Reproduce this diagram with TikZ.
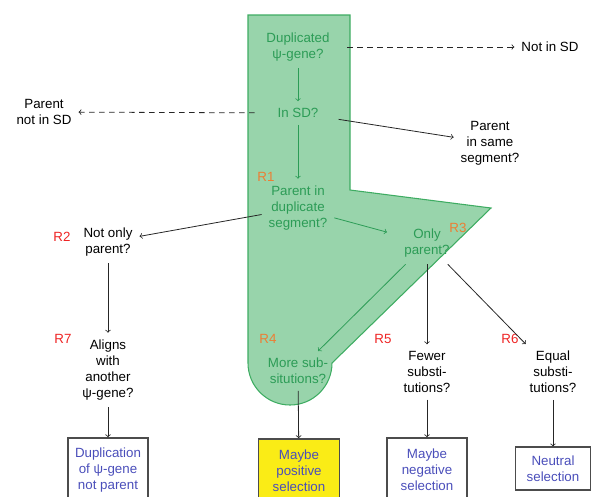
\documentclass[tikz,border=0pt]{standalone}
\usepackage{fontspec}
\setmainfont{Liberation Sans}
\definecolor{shapefill}{RGB}{152,212,171}
\definecolor{shapeline}{RGB}{62,172,98}
\definecolor{qgreen}{RGB}{44,156,86}
\definecolor{rorange}{RGB}{236,126,52}
\definecolor{rred}{RGB}{238,36,36}
\definecolor{outblue}{RGB}{74,78,186}
\definecolor{posyellow}{RGB}{250,236,22}

\begin{document}
\begin{tikzpicture}[x=0.75pt,y=0.75pt,yscale=-1,
  q/.style={align=center,font=\fontsize{10}{12}\selectfont,inner sep=5pt},
  gq/.style={q,text=qgreen},
  rlab/.style={font=\fontsize{10}{12}\selectfont,inner sep=0pt},
  outbox/.style={draw=black!70,line width=1.1pt,align=center,text=outblue,font=\fontsize{10}{12}\selectfont,minimum width=60pt,inner sep=2pt},
  every path/.append style={line width=0.6pt}]
\useasboundingbox (0,0) rectangle (594,497);

%Shape: Polygon
\draw [draw=shapeline,fill=shapefill,line width=0.8pt] (248,15) -- (350,15) -- (350,190) -- (491,208) -- (332,363) arc [start angle=0,end angle=180,radius=42] -- cycle ;

% Text Node
\draw (298,47) node (dup) [gq] {Duplicated\\ψ-gene?};
% Text Node
\draw (298,113) node (insd) [gq] {In SD?};
% Text Node
\draw (298,208) node (pdup) [gq] {Parent in\\duplicate\\segment?};
% Text Node
\draw (427,243) node (only) [gq] {Only\\parent?};
% Text Node
\draw (298,371) node (more) [gq] {More sub-\\situtions?};
% Text Node
\draw (550,47) node (notsd) [q] {Not in SD};
% Text Node
\draw (44,112) node (pnotsd) [q] {Parent\\not in SD};
% Text Node
\draw (490,143) node (psame) [q] {Parent\\in same\\segment?};
% Text Node
\draw (108,242) node (notonly) [q] {Not only\\parent?};
% Text Node
\draw (108,370) node (aligns) [q] {Aligns\\with\\another\\ψ-gene?};
% Text Node
\draw (427,372) node (fewer) [q] {Fewer\\substi-\\tutions?};
% Text Node
\draw (553,372) node (equal) [q] {Equal\\substi-\\tutions?};

% Rule labels
\draw (266,177) node (r1) [rlab,text=rorange] {R1};
\draw (62,237) node (r2) [rlab,text=rred] {R2};
\draw (458,228) node (r3) [rlab,text=rorange] {R3};
\draw (268,339) node (r4) [rlab,text=rorange] {R4};
\draw (383,339) node (r5) [rlab,text=rred] {R5};
\draw (510,339) node (r6) [rlab,text=rred] {R6};
\draw (63,339) node (r7) [rlab,text=rred] {R7};

% Outcome boxes
\draw (108,470) node (odup) [outbox,minimum height=48pt] {Duplication\\of ψ-gene\\not parent};
\draw (299,471) node (opos) [outbox,fill=posyellow,minimum width=61pt,minimum height=48pt] {Maybe\\positive\\selection};
\draw (427,470) node (oneg) [outbox,minimum height=48pt] {Maybe\\negative\\selection};
\draw (553,468.5) node (oneu) [outbox,minimum width=56pt,minimum height=32pt] {Neutral\\selection};

%Straight Lines
\draw [->,qgreen] (dup) -- (insd) ;
\draw [->,qgreen] (insd) -- (pdup) ;
\draw [->,qgreen,shorten >=8pt] (pdup) -- (only) ;
\draw [->,qgreen] (only) -- (more) ;
\draw [->,black!85,dash pattern={on 4pt off 3.5pt},shorten <=8pt] (dup) -- (notsd) ;
\draw [->,black!85,dash pattern={on 4pt off 3.5pt},shorten <=12pt] (insd) -- (pnotsd) ;
\draw [->,black!85,shorten <=10pt] (insd) -- (psame) ;
\draw [->,black!85] (pdup) -- (notonly) ;
\draw [->,black!85] (notonly) -- (aligns) ;
\draw [->,black!85] (aligns) -- (odup) ;
\draw [->,black!85] (only) -- (fewer) ;
\draw [->,black!85] (only) -- (equal) ;
\draw [->,black!85] (more) -- (opos) ;
\draw [->,black!85] (fewer) -- (oneg) ;
\draw [->,black!85] (equal) -- (oneu) ;

\end{tikzpicture}
\end{document}
